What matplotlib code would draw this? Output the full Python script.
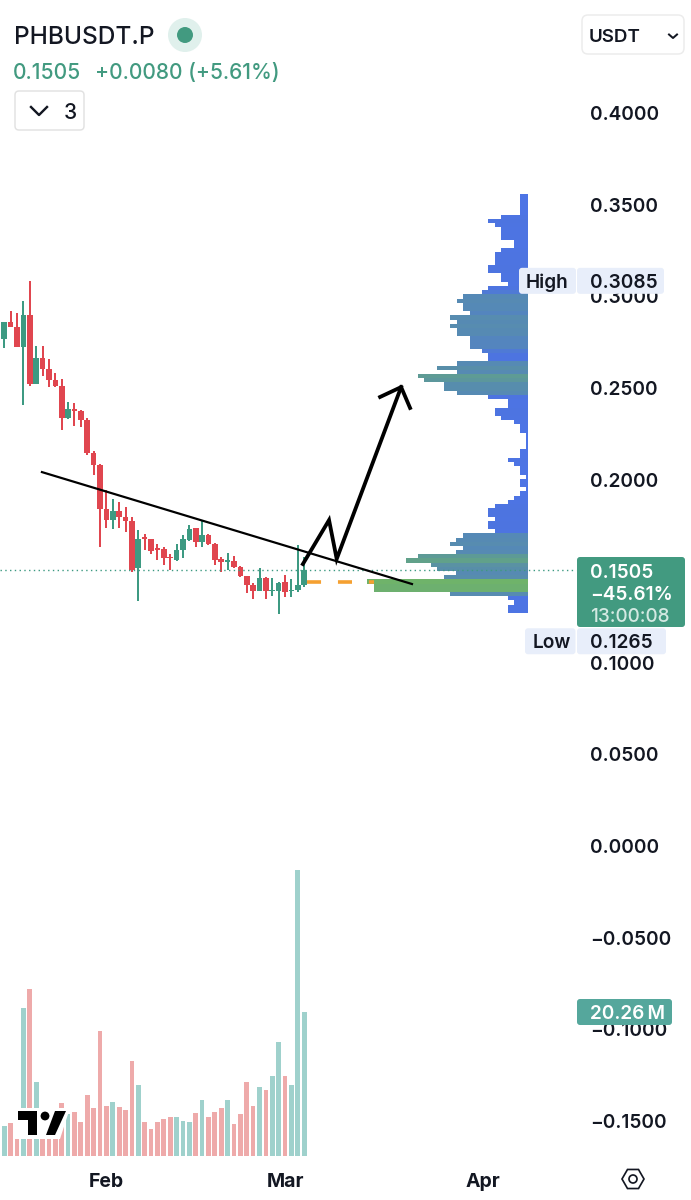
import numpy as np
import matplotlib
matplotlib.use("Agg")
import matplotlib.pyplot as plt
from matplotlib.colors import LinearSegmentedColormap
from matplotlib.patches import Circle, FancyBboxPatch, Polygon, RegularPolygon

plt.rcParams['font.family'] = ['Inter', 'DejaVu Sans']

# daily candles, one per day, index 16 = Feb 1
opens = [.2767, .2860, .2833, .2724, .2898, .2522, .2664, .2604, .2544, .2511, .2336, .2385,
         .2374, .2325, .2145, .2080, .1840, .1779, .1829, .1796, .1774, .1517, .1681, .1676,
         .1621, .1621, .1578, .1561, .1616, .1670, .1736, .1659, .1698, .1648, .1567, .1550,
         .1556, .1523, .1474, .1425, .1392, .1463, .1392, .1392, .1441, .1392, .1397, .1425]
closes = [.2860, .2833, .2724, .2898, .2522, .2664, .2604, .2544, .2511, .2336, .2385, .2374,
          .2325, .2145, .2080, .1840, .1779, .1829, .1796, .1774, .1507, .1676, .1676, .1610,
          .1616, .1572, .1572, .1616, .1676, .1730, .1659, .1698, .1648, .1561, .1550, .1561,
          .1523, .1474, .1425, .1392, .1463, .1392, .1397, .1436, .1386, .1397, .1425, .1505]
highs = [.2860, .2920, .2909, .2975, .3085, .2729, .2729, .2658, .2582, .2549, .2424, .2418,
         .2380, .2336, .2156, .2085, .1943, .1894, .1878, .1850, .1796, .1725, .1703, .1676,
         .1648, .1632, .1594, .1648, .1698, .1752, .1736, .1779, .1703, .1654, .1578, .1599,
         .1583, .1528, .1474, .1436, .1517, .1468, .1463, .1441, .1479, .1457, .1643, .1578]
lows = [.2718, .2833, .2724, .2407, .2511, .2522, .2565, .2505, .2505, .2271, .2331, .2293,
        .2287, .2134, .2025, .1632, .1736, .1730, .1736, .1714, .1496, .1337, .1616, .1594,
        .1561, .1534, .1507, .1556, .1572, .1665, .1632, .1632, .1643, .1534, .1496, .1507,
        .1517, .1468, .1381, .1348, .1392, .1348, .1365, .1265, .1359, .1359, .1386, .1414]
# volume in millions
volumes = [4.18, 4.64, 4.12, 20.8, 23.5, 10.45, 4.2, 3.9, 3.9, 7.5, 5.95, 6.15,
           4.83, 8.62, 6.71, 17.55, 7.08, 7.6, 6.85, 6.47, 13.4, 10.03, 4.74, 3.84,
           4.78, 5.25, 5.49, 5.49, 4.88, 4.74, 6.05, 7.92, 5.45, 6.15, 6.8, 7.84,
           4.54, 5.91, 10.41, 6.99, 9.67, 9.24, 11.3, 16.0, 11.3, 10.03, 40.24, 20.26]

# volume profile rows, top to bottom
profile = [7.7, 7.7, 7.7, 7.7, 7.7, 26.7, 39.7, 33, 26.7, 26.7, 26.7, 14, 14, 26.7, 33, 33, 33,
           39.7, 39.7, 26.7, 26.7, 20.3, 39.7, 46, 64.7, 71.3, 64.7, 64.7, 58.3, 78, 71.3, 78,
           71.3, 71.3, 58.3, 58.3, 58.3, 46, 39.7, 39.7, 71.3, 90.7, 71.3, 110, 103.7, 84.3, 84.3,
           71.3, 39.7, 20.3, 20.3, 33.3, 33.3, 27, 14, 7.7, 7.7, 1.7, 1.7, 1.7, 1.7, 7.7, 7.7,
           20.3, 14, 7.7, 7.7, 1.7, 7.7, 7.7, 1.7, 7.7, 14, 20.3, 33.3, 39.7, 39.7, 33.3, 39.7,
           39.7, 33.3, 65, 71.7, 78, 65, 71.7, 109.7, 122.3, 97, 90.7, 71.7, 84.3, 160.7, 154.3,
           154.3, 78, 20.3, 14, 20.3, 20.3]
profile_top = 0.3560
profile_row = 0.002288

price_ticks = [0.40, 0.35, 0.30, 0.25, 0.20, 0.10, 0.05, 0.0, -0.05, -0.10, -0.15]
price_labels = ["0.4000", "0.3500", "0.3000", "0.2500", "0.2000", "0.1000", "0.0500", "0.0000",
                "\u22120.0500", "\u22120.1000", "\u22120.1500"]
month_ticks = [16, 44, 75]
month_labels = ["Feb", "Mar", "Apr"]

trend_x = [5.9, 63.9]
trend_y = [.2041, .1430]
arrow_x = [46.8, 50.9, 52.1, 62.2]
arrow_y = [.1539, .1779, .1567, .2505]
head_x = [58.9, 62.2, 63.6]
head_y = [.2451, .2505, .2391]
level_x = [47.4, 58.0]
level_y = [.1441, .1441]

last_price = 0.1505
high_price = 0.3085
low_price = 0.1265

W, H = 691, 1200
X0, DX = 4.3, 6.38   # pixel of candle 0, pixels per candle
Y0, DY = 846, 1832   # pixel of price 0, pixels per unit
UP, DOWN = "#3d9a82", "#e0464f"
BLACK = "#131722"
px = 0.72  # one pixel in points at dpi 100


def main():
    fig = plt.figure(figsize=(W / 100, H / 100), dpi=100, facecolor="white")
    xlim = ((0 - X0) / DX, (W - X0) / DX)
    ylim = ((Y0 - H) / DY, Y0 / DY)
    idx = np.arange(len(opens))
    o, c, hi, lo = map(np.array, (opens, closes, highs, lows))
    up = c >= o
    cols = np.where(up, UP, DOWN)

    # volume panel
    ax_vol = fig.add_axes([0, 44 / H, 1, 0.3], zorder=1)
    ax_vol.bar(idx, volumes, width=0.74, color=np.where(up, "#9fd1cc", "#eeaaaa"))
    ax_vol.set_xlim(xlim)
    ax_vol.set_ylim(0, 0.3 * H * 0.1407)
    ax_vol.axis("off")

    # volume profile, 1 unit = 1 pixel from the right edge
    ax_vp = fig.add_axes([0, 0, 528 / W, 1], zorder=2)
    cmap = LinearSegmentedColormap.from_list("vp", [(0, "#4d74e6"), (0.25, "#4d74e0"), (0.38, "#5588b8"),
                                                    (0.56, "#588eaa"), (0.72, "#5f9e90"), (1, "#6fb36a")])
    rows = profile_top - profile_row * (np.arange(len(profile)) + 0.5)
    ax_vp.barh(rows, profile, height=profile_row, color=cmap(np.array(profile) / max(profile)), lw=0)
    ax_vp.set_xlim(528, 0)
    ax_vp.set_ylim(ylim)
    ax_vp.axis("off")

    # price panel
    ax = fig.add_axes([0, 0, 1, 1], zorder=3)
    ax.patch.set_alpha(0)
    ax.vlines(idx, lo, hi, colors=cols, lw=2 * px, zorder=3)
    ax.bar(idx, np.maximum(np.abs(c - o), 0.0008), bottom=np.minimum(o, c), width=0.88, color=cols, zorder=4)
    ax.axhline(last_price, xmax=576 / W, color="#3d9a82", lw=1.4 * px, dashes=(1, 2.4), zorder=5)
    ax.plot(level_x, level_y, color="#f5a030", lw=3.6 * px, dashes=(3.9, 4.7), dash_capstyle="butt", zorder=5)
    ax.plot(trend_x, trend_y, color="black", lw=2.2 * px, zorder=6)
    ax.plot(arrow_x, arrow_y, color="black", lw=3.8 * px, zorder=6, solid_joinstyle="miter")
    ax.plot(head_x, head_y, color="black", lw=3.8 * px, zorder=6, solid_joinstyle="miter")
    ax.set_xlim(xlim)
    ax.set_ylim(ylim)
    for s in ax.spines.values():
        s.set_visible(False)
    ax.yaxis.tick_right()
    ax.set_yticks(price_ticks, price_labels)
    ax.set_xticks(month_ticks, month_labels)
    ax.tick_params(axis="y", length=0, pad=-(W - 590) * px, labelsize=13.7, labelcolor=BLACK)
    ax.tick_params(axis="x", length=0, pad=-27 * px, labelsize=14, labelcolor=BLACK)
    for t in ax.get_yticklabels():
        t.set_fontweight(600)
    for t in ax.get_xticklabels():
        t.set_fontweight("bold")

    # header, labels and logo in pixel coordinates
    ui = fig.add_axes([0, 0, 1, 1], zorder=4)
    ui.set_xlim(0, W)
    ui.set_ylim(H, 0)
    ui.axis("off")

    def box(x0, y0, x1, y1, fc, ec="none", r=3):
        ui.add_patch(FancyBboxPatch((x0, y0), x1 - x0, y1 - y0, boxstyle=f"round,pad=0,rounding_size={r}",
                                    fc=fc, ec=ec, lw=1.5 * px))

    def label(x, y, s, color=BLACK, size=13.7, weight=600):
        ui.text(x, y, s, color=color, fontsize=size, fontweight=weight, ha="left", va="center_baseline")

    label(14, 35, "PHBUSDT.P", size=17.6, weight="medium")
    ui.add_patch(Circle((185, 35), 17, fc="#e0f0ec", ec="none"))
    ui.add_patch(Circle((185, 35), 8, fc="#429a80", ec="none"))
    label(13, 71, "0.1505", color="#429a80", size=15.2, weight="medium")
    label(95, 71, "+0.0080 (+5.61%)", color="#429a80", size=15.1, weight="medium")

    box(15, 91, 84, 130, "white", "#e2e2e2", 4)
    ui.plot([31, 39, 47], [107, 115, 107], color=BLACK, lw=2.4 * px)
    label(64, 111, "3", size=15, weight="medium")

    box(582, 15, 684, 54, "white", "#ececec", 6)
    label(589, 35, "USDT", size=13.5)
    ui.plot([669, 673, 677], [34.5, 38, 34.5], color=BLACK, lw=2 * px)

    y_high = Y0 - DY * high_price
    box(519, y_high - 13, 576, y_high + 13, "#e8eefa")
    box(577, y_high - 13, 664, y_high + 13, "#e8eefa")
    label(526, y_high, "High")
    label(590, y_high, "%.4f" % high_price)

    y_low = Y0 - DY * low_price
    box(525, y_low + 14, 575.5, y_low + 40, "#e8eefa")
    box(577, y_low + 14, 666, y_low + 40, "#e8eefa")
    label(533, y_low + 27, "Low")
    label(590, y_low + 27, "%.4f" % low_price)

    box(577, 557, 685, 627, "#429a80")
    label(590, 570.5, "%.4f" % last_price, color="white")
    label(590, 592.5, "\u221245.61%", color="white")
    label(590, 614.5, "13:00:08", color="#d3e9e2", weight="medium")

    box(577, 999, 672, 1025, "#55a79c")
    label(590, 1012, "20.26\u2009M", color="white")

    # logo
    ui.add_patch(Polygon([(15, 1108), (70, 1108), (60, 1139), (15, 1139)], fc="white", ec="none"))
    ui.add_patch(Polygon([(18, 1111), (37, 1111), (37, 1135), (28, 1135), (28, 1120), (18, 1120)], fc="black", ec="none"))
    ui.add_patch(Circle((45, 1116), 4.4, fc="black", ec="none"))
    ui.add_patch(Polygon([(55, 1111), (66, 1111), (55, 1135), (46, 1135)], fc="black", ec="none"))

    # settings icon
    ui.add_patch(RegularPolygon((633, 1179), 6, radius=11, orientation=np.pi / 2 + np.pi / 3, fc="white", ec=BLACK, lw=1.7 * px))
    ui.add_patch(Circle((633, 1179), 4, fc="white", ec=BLACK, lw=1.7 * px))

    fig.savefig("out.png", dpi=100)


if __name__ == "__main__":
    main()
